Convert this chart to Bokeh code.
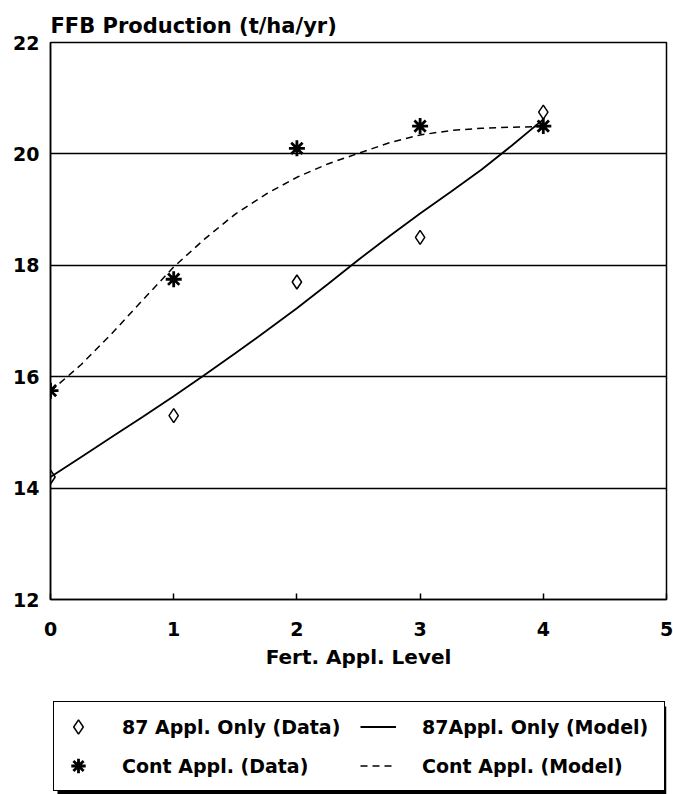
from bokeh.plotting import figure
from bokeh.layouts import column
from bokeh.models import Legend, LegendItem, FixedTicker, BoxAnnotation, Range1d
from bokeh.embed import file_html
from bokeh.resources import INLINE

# Fertiliser application level (x) and FFB yield (t/ha/yr)
levels = [0, 1, 2, 3, 4]
appl87_data = [14.2, 15.3, 17.7, 18.5, 20.75]
cont_data = [15.75, 17.75, 20.1, 20.5, 20.5]

# Fitted model curves
model_x = [0, 0.25, 0.5, 0.75, 1.0, 1.25, 1.5, 1.75, 2.0, 2.25, 2.5, 2.75, 3.0, 3.25, 3.5, 3.75, 4.0]
appl87_model = [14.20, 14.56, 14.92, 15.28, 15.65, 16.03, 16.42, 16.82, 17.23,
                17.66, 18.10, 18.52, 18.93, 19.32, 19.72, 20.16, 20.62]
cont_model = [15.74, 16.22, 16.78, 17.38, 17.97, 18.47, 18.92, 19.28, 19.58,
              19.82, 20.01, 20.20, 20.34, 20.42, 20.46, 20.48, 20.49]

x_ticks = [0, 1, 2, 3, 4, 5]
y_ticks = [12, 14, 16, 18, 20, 22]

FONT = "DejaVu Sans"
NAN = float("nan")

# Shared glyph styles (chart and key)
DIAMOND = dict(marker="diamond", size=14, line_color="black", line_width=1.5, fill_color=None)
STAR = dict(marker="asterisk", size=16, line_color="black", line_width=2.8)
SOLID = dict(line_color="black", line_width=1.8)
DASHED = dict(line_color="black", line_width=1.5, line_dash="7 5")

p = figure(width=673, height=675,
           x_range=Range1d(0, 5), y_range=Range1d(12, 22),
           output_backend="svg", toolbar_location=None,
           min_border_left=50, min_border_right=7,
           min_border_top=42, min_border_bottom=76,
           title="FFB Production (t/ha/yr)")

p.title.text_font = FONT
p.title.text_font_style = "bold"
p.title.text_font_size = "21px"
p.title.text_color = "black"
p.title.align = "left"
p.title.offset = 0
p.title.standoff = 10

p.outline_line_color = "black"
p.outline_line_width = 1.5
p.outline_line_alpha = 1.0

for ax in (p.xaxis, p.yaxis):
    ax.axis_line_color = "black"
    ax.axis_line_width = 1.5
    ax.major_tick_line_color = "black"
    ax.major_tick_line_width = 1.5
    ax.minor_tick_line_color = None
    ax.major_label_text_font = FONT
    ax.major_label_text_font_style = "bold"
    ax.major_label_text_font_size = "19px"
    ax.major_label_text_color = "black"

p.xaxis.ticker = FixedTicker(ticks=x_ticks)
p.xaxis.major_tick_in = 6
p.xaxis.major_tick_out = 0
p.xaxis.major_label_standoff = 22
p.xaxis.axis_label = "Fert. Appl. Level"
p.xaxis.axis_label_text_font = FONT
p.xaxis.axis_label_text_font_style = "bold"
p.xaxis.axis_label_text_font_size = "20px"
p.xaxis.axis_label_text_color = "black"
p.xaxis.axis_label_standoff = 6

p.yaxis.ticker = FixedTicker(ticks=y_ticks)
p.yaxis.major_tick_in = 0
p.yaxis.major_tick_out = 0
p.yaxis.major_label_standoff = 11

p.xgrid.visible = False
p.ygrid.grid_line_color = "black"
p.ygrid.grid_line_width = 1.3
p.ygrid.grid_line_alpha = 1.0

# Model curves
p.line(model_x, appl87_model, **SOLID)
p.line(model_x, cont_model, **DASHED)

# Observed data
p.scatter(levels, appl87_data, **DIAMOND)
p.scatter(levels, cont_data, **STAR)

# Key panel underneath the chart. Its frame lines up with the chart frame
# (page x 50..666), so the x range is set in page pixels.
key = figure(width=673, height=119, x_range=Range1d(50, 666), y_range=Range1d(0, 119),
             output_backend="svg", toolbar_location=None,
             x_axis_type=None, y_axis_type=None,
             min_border_left=50, min_border_right=7, min_border_top=0, min_border_bottom=0)
key.outline_line_color = None
key.xgrid.visible = False
key.ygrid.visible = False

# Style carriers for the key entries (nothing visible is plotted)
k_d1 = key.scatter([NAN], [NAN], **DIAMOND)
k_d2 = key.scatter([NAN], [NAN], **STAR)
k_m1 = key.line([NAN], [NAN], **SOLID)
k_m2 = key.line([NAN], [NAN], **DASHED)

# Drop shadow behind the key box
key.add_layout(BoxAnnotation(left=57, right=666, bottom=0, top=88,
                             fill_color="black", fill_alpha=1.0, line_color=None))

legend = Legend(items=[
    LegendItem(label="87 Appl. Only (Data)", renderers=[k_d1]),
    LegendItem(label="Cont Appl. (Data)", renderers=[k_d2]),
    LegendItem(label="87Appl. Only (Model)", renderers=[k_m1]),
    LegendItem(label="Cont Appl. (Model)", renderers=[k_m2]),
], ncols=2, location=(3, 3), margin=0)
legend.padding = 6
legend.spacing = 2
legend.glyph_width = 36
legend.glyph_height = 37
legend.label_height = 37
legend.label_width = 236
legend.label_standoff = 26
legend.label_text_font = FONT
legend.label_text_font_style = "bold"
legend.label_text_font_size = "19px"
legend.label_text_color = "black"
legend.border_line_color = "black"
legend.border_line_width = 1.5
legend.border_line_alpha = 1.0
legend.background_fill_color = "white"
legend.background_fill_alpha = 1.0
key.add_layout(legend, "center")

layout = column(p, key, spacing=0)
open("out.html", "w").write(file_html(layout, INLINE))
